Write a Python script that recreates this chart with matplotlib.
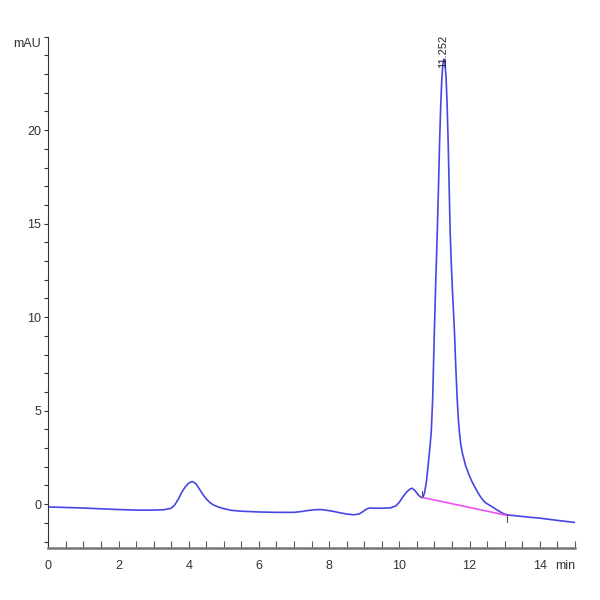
import matplotlib.pyplot as plt
import numpy as np

plt.rcParams['font.family'] = ['Liberation Sans Narrow', 'Liberation Sans', 'DejaVu Sans']

# Chromatogram trace (time in min, signal in mAU)
time = [0.0, 0.5, 1.0, 1.5, 2.0, 2.5, 3.0, 3.3, 3.5, 3.6, 3.7, 3.8, 3.9, 4.0,
        4.1, 4.2, 4.3, 4.4, 4.5, 4.6, 4.7, 4.85, 5.0, 5.2, 5.5, 6.0, 6.5, 7.0,
        7.2, 7.4, 7.6, 7.75, 7.9, 8.1, 8.3, 8.5, 8.7, 8.85, 8.95, 9.05, 9.15,
        9.3, 9.5, 9.75, 9.9, 10.0, 10.1, 10.2, 10.3, 10.36, 10.45, 10.55,
        10.62, 10.67, 10.72, 10.77, 10.82, 10.87, 10.91, 10.95, 11.0, 11.04,
        11.08, 11.12, 11.15, 11.18, 11.21, 11.24, 11.27, 11.3, 11.33, 11.36,
        11.39, 11.42, 11.45, 11.48, 11.51, 11.57, 11.61, 11.65, 11.68, 11.71,
        11.75, 11.8, 11.85, 11.89, 11.95, 12.0, 12.08, 12.15, 12.22, 12.31,
        12.38, 12.45, 12.52, 12.6, 12.68, 12.75, 12.82, 12.89, 12.95, 13.0,
        13.1, 13.4, 13.7, 14.0, 14.5, 15.0]
signal = [-0.15, -0.18, -0.21, -0.25, -0.29, -0.32, -0.32, -0.30, -0.22, -0.05,
          0.25, 0.62, 0.92, 1.12, 1.21, 1.10, 0.82, 0.52, 0.28, 0.09, -0.04,
          -0.16, -0.24, -0.33, -0.38, -0.42, -0.44, -0.44, -0.40, -0.34, -0.30,
          -0.29, -0.32, -0.38, -0.46, -0.53, -0.57, -0.53, -0.42, -0.28, -0.21,
          -0.22, -0.22, -0.20, -0.10, 0.10, 0.38, 0.63, 0.80, 0.85, 0.72, 0.47,
          0.36, 0.36, 0.60, 1.17, 2.04, 3.00, 3.84, 5.60, 9.30, 12.0,
          14.4, 17.2, 19.5, 21.3, 22.7, 23.5, 23.8, 23.6, 22.9, 21.5,
          19.5, 17.0, 14.5, 12.9, 11.6, 9.3, 7.3, 5.6, 4.6, 3.9,
          3.2, 2.7, 2.35, 2.04, 1.75, 1.5, 1.17, 0.92, 0.68, 0.40,
          0.22, 0.08, 0.0, -0.09, -0.18, -0.27, -0.35, -0.43, -0.49, -0.53,
          -0.58, -0.64, -0.70, -0.75, -0.87, -0.98]

# Integration baseline under the main peak
base_t = [10.65, 13.06]
base_v = [0.36, -0.60]

peak_time = 11.252
peak_top = 23.3

fig = plt.figure(figsize=(6, 6), dpi=100)
fig.patch.set_facecolor('white')
ax = fig.add_axes([0.0805, 0.0872, 0.8775, 0.861])

ax.plot(time, signal, color='#4646e6', linewidth=1.2, solid_joinstyle='round')
ax.plot(base_t, base_v, color='#f050f0', linewidth=1.2)

# small markers at the baseline ends
ax.plot([base_t[0], base_t[0]], [base_v[0], base_v[0] + 0.35], color='#555555', linewidth=0.8)
ax.plot([base_t[1], base_t[1]], [base_v[1], base_v[1] - 0.35], color='#555555', linewidth=0.8)

# peak retention time label
ax.text(peak_time, peak_top, f'{peak_time:.3f}', rotation=90, ha='center', va='bottom',
        fontsize=8, color='#222222', clip_on=False)

ax.set_xlim(0, 15)
ax.set_ylim(-2.33, 25.3)

ax.spines['top'].set_visible(False)
ax.spines['right'].set_visible(False)
ax.spines['left'].set_color('#333333')
ax.spines['left'].set_bounds(-2.33, 25)
ax.spines['bottom'].set_color('#777777')
ax.spines['bottom'].set_linewidth(1.8)

ax.set_xticks(np.arange(0, 15, 2))
ax.set_xticks(np.arange(0, 15.01, 0.5), minor=True)
ax.set_xticklabels([str(v) for v in range(0, 15, 2)], fontsize=9, color='#333333')
ax.tick_params(axis='x', which='both', direction='in', length=5, width=0.8, color='#555555', pad=9)

ax.set_yticks([0, 5, 10, 15, 20])
ax.set_yticks(np.arange(-2, 25.01, 1), minor=True)
ax.set_yticklabels(['0', '5', '10', '15', '20'], fontsize=9, color='#333333')
ax.tick_params(axis='y', which='both', direction='out', length=3, width=0.8, color='#333333', pad=2)

ax.text(15, -3.3, 'min', ha='right', va='center', fontsize=9, color='#333333', clip_on=False)
ax.text(-0.2, 24.6, 'mAU', ha='right', va='center', fontsize=9, color='#333333', clip_on=False)

plt.savefig('out.png', dpi=100)
